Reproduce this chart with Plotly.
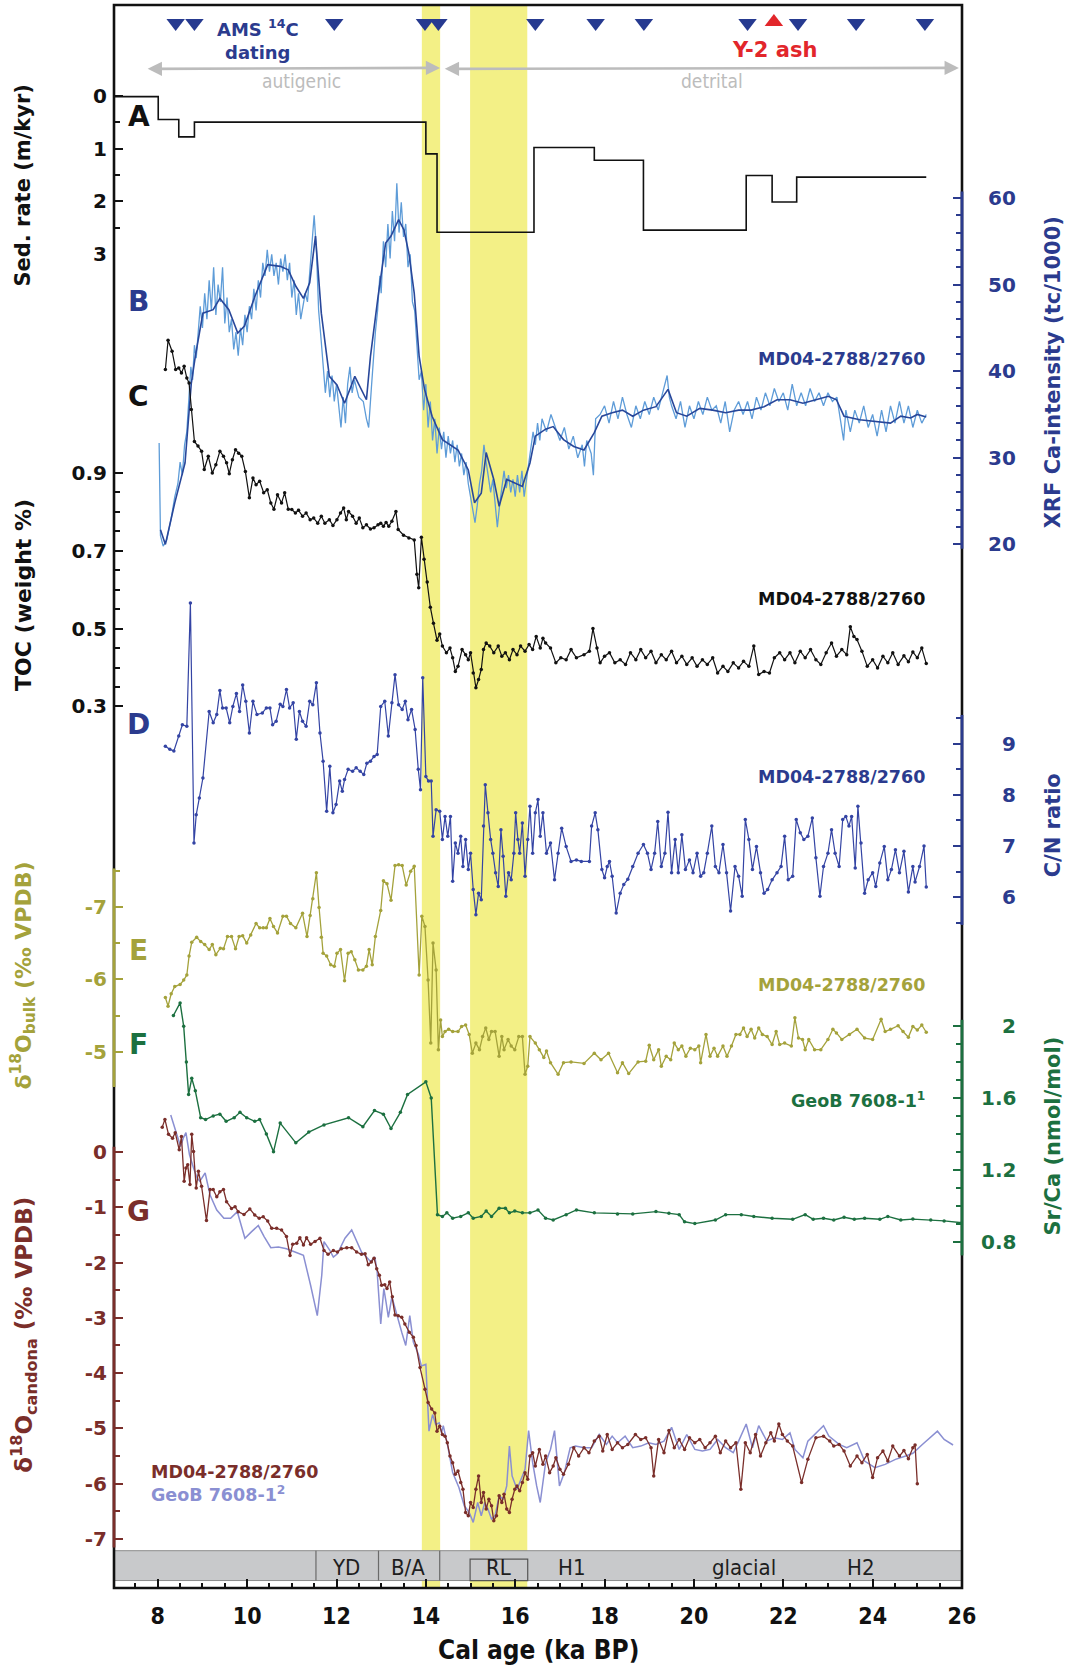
import plotly.graph_objects as go

# ======================= DATA =======================
# A: sedimentation rate (m/kyr), step function
sed_age = [7.02, 8.01, 8.38, 8.47, 8.82, 14.0, 14.25, 16.42, 17.77, 18.87, 21.17, 21.75, 22.30, 25.2]
sed_rate = [0.02, 0.45, 0.45, 0.78, 0.50, 1.10, 2.58, 0.98, 1.22, 2.54, 1.51, 2.01, 1.54, 1.54]

# B: XRF Ca intensity (tc/1000) - smoothed (dark) and raw (light)
xrf_smooth = [(8.06,21.7),(8.17,20.0),(8.38,24.8),(8.61,29.4),(8.75,38.6),(8.84,41.7),(9.01,46.7),(9.24,47.1),
    (9.39,48.4),(9.59,47.1),(9.79,44.4),(9.94,45.2),(10.17,48.6),(10.46,52.3),(10.74,52.1),(10.92,51.7),
    (11.09,49.8),(11.26,48.4),(11.40,50.2),(11.53,55.6),(11.66,46.7),(11.84,39.4),(12.01,38.4),(12.18,36.3),
    (12.41,39.4),(12.67,36.7),(12.76,41.7),(12.93,48.6),(13.10,54.8),(13.22,55.6),(13.39,57.5),(13.51,56.3),
    (13.62,53.6),(13.74,49.0),(13.85,41.7),(13.97,37.9),(14.14,34.8),(14.37,32.1),(14.72,30.9),(14.95,28.6),
    (15.09,24.8),(15.24,25.9),(15.35,30.6),(15.52,27.5),(15.64,24.4),(15.81,27.5),(15.99,27.1),(16.16,26.7),
    (16.33,29.4),(16.45,32.5),(16.68,33.3),(16.85,33.6),(17.08,32.1),(17.31,31.3),(17.54,30.9),(17.77,32.9),
    (17.94,34.8),(18.17,35.2),(18.40,35.5),(18.63,34.8),(18.87,35.5),(19.15,35.9),(19.42,37.9),(19.61,35.2),
    (19.84,34.8),(20.13,35.7),(20.42,35.5),(20.71,35.2),(21.0,35.5),(21.28,35.5),(21.57,35.9),(21.86,36.7),
    (22.15,36.7),(22.44,36.3),(22.73,36.7),(23.01,37.1),(23.19,36.7),(23.36,34.8),(23.71,34.4),(24.05,34.2),
    (24.40,34.0),(24.63,34.8),(24.85,34.6),(25.0,35.0),(25.2,34.7)]
xrf_raw = [(8.03,31.7),(8.06,21.0),(8.12,19.8),(8.2,20.5),(8.3,23.0),(8.38,25.5),(8.45,27.0),(8.5,29.5),(8.55,28.0),
    (8.6,31.5),(8.65,33.0),(8.7,38.0),(8.74,40.5),(8.78,39.0),(8.82,43.0),(8.86,41.5),(8.9,44.0),(8.95,47.5),
    (9.0,45.0),(9.05,49.0),(9.1,46.0),(9.15,50.5),(9.2,47.0),(9.25,52.0),(9.3,46.5),(9.35,50.0),(9.4,48.0),
    (9.45,52.0),(9.5,45.5),(9.55,48.5),(9.6,44.5),(9.65,46.0),(9.7,42.5),(9.75,44.5),(9.8,41.8),(9.85,45.0),
    (9.9,43.0),(9.95,46.5),(10.0,44.5),(10.05,47.5),(10.1,46.0),(10.15,49.5),(10.2,47.0),(10.25,50.5),(10.3,48.5),
    (10.35,52.5),(10.4,51.0),(10.45,54.0),(10.5,51.5),(10.55,53.5),(10.6,51.0),(10.65,52.5),(10.7,50.0),
    (10.75,53.0),(10.8,51.5),(10.85,53.5),(10.9,50.5),(10.95,52.5),(11.0,48.5),(11.05,50.5),(11.1,46.5),
    (11.15,49.0),(11.2,46.0),(11.25,47.5),(11.3,49.0),(11.35,48.0),(11.4,51.0),(11.45,54.5),(11.5,58.0),
    (11.55,54.0),(11.6,47.0),(11.65,44.0),(11.7,40.5),(11.75,37.5),(11.8,40.0),(11.85,37.0),(11.9,39.5),
    (11.95,36.5),(12.0,38.5),(12.05,36.0),(12.1,33.5),(12.15,37.0),(12.2,34.0),(12.25,38.5),(12.3,40.5),
    (12.35,37.5),(12.4,39.0),(12.5,37.0),(12.6,36.5),(12.67,34.5),(12.72,33.5),(12.78,38.0),(12.82,41.0),
    (12.87,44.5),(12.92,47.0),(12.97,51.0),(13.0,49.0),(13.05,55.0),(13.1,52.0),(13.15,57.0),(13.2,53.0),
    (13.25,58.5),(13.3,55.0),(13.35,61.7),(13.4,56.0),(13.45,59.5),(13.5,55.5),(13.55,57.0),(13.6,52.0),
    (13.65,53.5),(13.7,48.0),(13.75,47.0),(13.8,43.0),(13.85,39.0),(13.9,40.0),(13.95,35.5),(14.0,38.5),
    (14.05,33.5),(14.1,36.5),(14.15,32.0),(14.2,34.5),(14.25,30.5),(14.3,33.5),(14.35,31.0),(14.4,33.0),
    (14.45,30.0),(14.5,32.5),(14.55,30.5),(14.6,32.0),(14.65,29.5),(14.7,31.5),(14.75,29.0),(14.8,30.5),
    (14.85,28.0),(14.9,29.5),(14.95,27.0),(15.0,25.5),(15.05,24.0),(15.1,22.5),(15.15,24.5),(15.2,27.0),
    (15.25,28.5),(15.3,31.5),(15.35,29.5),(15.4,28.0),(15.45,26.0),(15.5,27.5),(15.55,25.0),(15.6,22.0),
    (15.65,24.5),(15.7,26.5),(15.75,28.5),(15.8,26.5),(15.85,28.0),(15.9,26.0),(15.95,27.5),(16.0,25.5),
    (16.05,28.0),(16.1,26.0),(16.15,28.5),(16.2,25.5),(16.25,27.5),(16.3,29.5),(16.35,31.5),(16.4,33.0),
    (16.45,31.5),(16.5,34.0),(16.55,32.0),(16.6,34.5),(16.7,33.0),(16.8,35.0),(16.9,33.5),(17.0,32.0),
    (17.1,33.5),(17.2,31.0),(17.3,32.5),(17.4,30.0),(17.5,31.5),(17.55,29.0),(17.6,32.0),(17.7,30.5),
    (17.75,28.0),(17.8,34.5),(17.9,35.0),(18.0,36.0),(18.1,34.0),(18.2,36.5),(18.3,34.5),(18.4,37.0),
    (18.5,35.0),(18.6,33.5),(18.7,36.0),(18.8,34.5),(18.9,36.5),(19.0,35.0),(19.1,37.0),(19.2,35.5),
    (19.3,37.5),(19.4,39.5),(19.45,37.0),(19.5,36.0),(19.6,34.5),(19.7,36.5),(19.8,33.5),(19.9,36.0),
    (20.0,34.5),(20.1,36.5),(20.2,35.0),(20.3,37.0),(20.4,35.5),(20.5,36.0),(20.6,34.0),(20.7,36.5),
    (20.8,33.0),(20.9,35.5),(21.0,36.5),(21.1,35.0),(21.2,36.5),(21.3,34.5),(21.4,37.0),(21.5,35.5),
    (21.6,37.5),(21.7,36.0),(21.8,38.0),(21.9,36.5),(22.0,37.5),(22.1,35.5),(22.2,38.5),(22.3,36.0),
    (22.4,37.5),(22.5,36.0),(22.6,38.0),(22.7,36.5),(22.8,37.5),(22.9,36.0),(23.0,37.5),(23.1,36.5),
    (23.2,37.0),(23.3,34.0),(23.35,32.0),(23.4,35.5),(23.5,33.0),(23.6,35.5),(23.7,34.0),(23.8,36.0),
    (23.9,33.5),(24.0,35.0),(24.1,32.5),(24.2,35.5),(24.3,33.0),(24.4,36.0),(24.5,34.0),(24.6,36.5),
    (24.7,34.0),(24.8,36.0),(24.9,33.5),(25.0,35.5),(25.1,34.0),(25.2,35.0)]

# C: TOC (weight %)
toc = [(8.17,1.166),(8.23,1.241),(8.32,1.213),(8.40,1.166),(8.47,1.170),(8.53,1.157),(8.59,1.174),(8.65,1.144),
    (8.70,1.131),(8.75,1.063),(8.82,0.981),(8.90,0.969),(8.98,0.956),(9.04,0.909),(9.13,0.943),(9.22,0.900),
    (9.30,0.921),(9.39,0.956),(9.47,0.943),(9.54,0.926),(9.60,0.898),(9.67,0.934),(9.74,0.960),(9.81,0.951),
    (9.88,0.943),(9.96,0.904),(10.05,0.836),(10.13,0.887),(10.20,0.870),(10.28,0.879),(10.37,0.849),(10.45,0.857),
    (10.53,0.823),(10.60,0.807),(10.68,0.844),(10.77,0.823),(10.84,0.849),(10.92,0.807),(11.00,0.806),(11.08,0.797),
    (11.15,0.804),(11.24,0.789),(11.32,0.797),(11.41,0.780),(11.49,0.784),(11.58,0.771),(11.66,0.789),(11.74,0.771),
    (11.84,0.780),(11.92,0.765),(12.01,0.780),(12.09,0.797),(12.16,0.810),(12.22,0.780),(12.27,0.801),(12.36,0.789),
    (12.44,0.771),(12.51,0.784),(12.59,0.759),(12.67,0.767),(12.76,0.756),(12.84,0.759),(12.93,0.767),(12.99,0.771),
    (13.05,0.763),(13.11,0.773),(13.17,0.763),(13.24,0.776),(13.33,0.801),(13.38,0.755),(13.50,0.740),(13.62,0.733),
    (13.74,0.728),(13.80,0.640),(13.84,0.605),(13.90,0.735),(13.96,0.678),(14.03,0.620),(14.10,0.555),(14.17,0.514),
    (14.25,0.470),(14.31,0.486),(14.37,0.455),(14.46,0.438),(14.54,0.450),(14.60,0.425),(14.66,0.390),(14.72,0.403),
    (14.81,0.446),(14.89,0.433),(14.95,0.420),(15.00,0.438),(15.06,0.386),(15.12,0.348),(15.18,0.369),(15.24,0.395),
    (15.29,0.446),(15.35,0.463),(15.43,0.455),(15.52,0.438),(15.62,0.455),(15.70,0.429),(15.78,0.438),(15.87,0.420),
    (15.95,0.446),(16.04,0.433),(16.12,0.455),(16.22,0.442),(16.31,0.459),(16.39,0.446),(16.47,0.480),(16.56,0.450),
    (16.62,0.475),(16.68,0.463),(16.79,0.450),(16.91,0.412),(17.02,0.425),(17.14,0.420),(17.25,0.446),(17.37,0.425),
    (17.54,0.433),(17.66,0.442),(17.74,0.500),(17.83,0.450),(17.90,0.412),(18.00,0.429),(18.11,0.438),(18.23,0.412),
    (18.35,0.420),(18.47,0.408),(18.58,0.438),(18.70,0.420),(18.81,0.446),(18.92,0.425),(19.04,0.442),(19.15,0.412),
    (19.27,0.433),(19.38,0.420),(19.50,0.442),(19.61,0.412),(19.73,0.429),(19.84,0.408),(19.96,0.425),(20.07,0.403),
    (20.19,0.420),(20.30,0.408),(20.42,0.425),(20.53,0.386),(20.65,0.403),(20.76,0.390),(20.88,0.412),(21.00,0.399),
    (21.11,0.416),(21.23,0.403),(21.34,0.455),(21.45,0.382),(21.57,0.390),(21.69,0.386),(21.80,0.425),(21.92,0.438),
    (22.03,0.420),(22.15,0.438),(22.26,0.412),(22.38,0.442),(22.49,0.425),(22.61,0.446),(22.73,0.420),(22.84,0.408),
    (22.96,0.438),(23.08,0.463),(23.19,0.429),(23.31,0.446),(23.42,0.433),(23.50,0.505),(23.58,0.480),(23.65,0.472),
    (23.76,0.442),(23.88,0.403),(24.00,0.420),(24.11,0.399),(24.23,0.429),(24.34,0.412),(24.45,0.438),(24.57,0.408),
    (24.70,0.430),(24.80,0.415),(24.90,0.440),(25.00,0.425),(25.10,0.450),(25.20,0.410)]

# D: C/N ratio
cn = [(8.17,8.95),(8.27,8.89),(8.36,8.86),(8.47,9.15),(8.55,9.37),(8.65,9.34),(8.73,11.75),(8.81,7.06),(8.86,7.61),
    (8.93,7.94),(9.01,8.33),(9.15,9.63),(9.24,9.41),(9.32,9.57),(9.39,10.04),(9.45,9.70),(9.53,9.70),(9.61,9.41),
    (9.68,9.73),(9.76,9.98),(9.83,9.63),(9.90,10.15),(9.97,9.83),(10.05,9.21),(10.13,9.83),(10.22,9.57),(10.34,9.60),
    (10.43,9.70),(10.51,9.70),(10.57,9.37),(10.65,9.44),(10.74,9.77),(10.80,9.73),(10.88,10.06),(10.95,9.70),
    (11.03,9.80),(11.10,9.09),(11.17,9.63),(11.24,9.44),(11.32,9.34),(11.40,9.83),(11.47,9.76),(11.55,10.19),
    (11.63,9.21),(11.70,8.66),(11.78,7.68),(11.85,8.56),(11.92,7.65),(11.99,7.81),(12.07,8.27),(12.13,8.07),
    (12.18,8.30),(12.26,8.50),(12.36,8.46),(12.44,8.53),(12.53,8.46),(12.61,8.40),(12.68,8.62),(12.76,8.66),
    (12.84,8.75),(12.91,8.79),(12.99,9.73),(13.08,9.83),(13.16,9.15),(13.24,9.80),(13.31,10.35),(13.39,9.76),
    (13.47,9.67),(13.54,9.83),(13.60,9.47),(13.68,9.67),(13.76,9.28),(13.83,8.50),(13.88,8.10),(13.93,10.29),
    (14.00,8.36),(14.06,8.27),(14.12,8.27),(14.16,7.19),(14.23,7.71),(14.31,7.68),(14.37,7.13),(14.43,7.58),
    (14.49,7.19),(14.55,7.58),(14.60,6.31),(14.66,7.06),(14.72,6.86),(14.78,7.19),(14.83,6.60),(14.89,7.13),
    (14.95,6.54),(15.00,6.86),(15.06,6.15),(15.12,5.66),(15.18,6.08),(15.24,5.95),(15.29,7.39),(15.33,8.20),
    (15.39,7.65),(15.45,7.13),(15.50,6.86),(15.56,6.48),(15.62,6.21),(15.68,7.32),(15.73,6.80),(15.79,6.02),
    (15.85,6.48),(15.91,6.34),(15.97,6.86),(16.01,7.65),(16.06,7.13),(16.10,6.86),(16.16,7.45),(16.22,6.41),
    (16.28,7.13),(16.33,7.78),(16.39,6.86),(16.45,7.65),(16.51,7.91),(16.56,7.19),(16.62,7.65),(16.70,6.86),
    (16.79,7.06),(16.88,6.34),(16.96,6.86),(17.04,7.35),(17.14,6.99),(17.25,6.70),(17.37,6.73),(17.48,6.70),
    (17.66,6.70),(17.71,7.39),(17.79,7.65),(17.85,7.32),(17.94,6.54),(18.00,6.38),(18.06,6.60),(18.11,6.70),
    (18.17,6.41),(18.26,5.69),(18.35,6.08),(18.43,6.25),(18.52,6.35),(18.63,6.60),(18.75,6.86),(18.87,7.03),
    (18.96,6.86),(19.04,6.54),(19.12,6.86),(19.19,7.48),(19.27,6.60),(19.35,6.86),(19.42,7.66),(19.50,6.48),
    (19.58,7.13),(19.65,6.48),(19.73,7.22),(19.81,6.54),(19.90,6.73),(19.98,6.48),(20.07,6.86),(20.15,6.41),
    (20.22,6.48),(20.30,6.86),(20.40,7.39),(20.48,6.60),(20.56,6.48),(20.65,7.03),(20.73,6.48),(20.82,5.73),
    (20.92,6.60),(21.00,6.41),(21.08,6.02),(21.15,7.52),(21.23,7.13),(21.31,6.54),(21.40,6.99),(21.49,6.48),
    (21.57,6.08),(21.65,6.15),(21.75,6.34),(21.86,6.48),(21.95,6.60),(22.03,7.19),(22.11,6.34),(22.21,6.41),
    (22.29,7.52),(22.38,7.26),(22.46,7.13),(22.55,7.19),(22.65,7.55),(22.73,6.77),(22.82,6.02),(22.90,6.60),
    (23.00,6.86),(23.08,7.32),(23.16,6.86),(23.25,6.60),(23.33,7.52),(23.40,7.58),(23.47,7.39),(23.53,7.58),
    (23.61,6.57),(23.67,7.78),(23.74,7.06),(23.82,6.08),(23.90,6.34),(24.00,6.48),(24.07,6.21),(24.16,6.67),
    (24.26,6.99),(24.34,6.34),(24.42,6.54),(24.51,6.93),(24.60,6.48),(24.70,6.90),(24.80,6.10),(24.90,6.60),
    (24.95,6.30),(25.05,6.60),(25.15,7.00),(25.20,6.20)]

# E: d18O bulk (permil VPDB)
d18o_bulk = [(8.17,-5.75),(8.23,-5.63),(8.30,-5.80),(8.38,-5.90),(8.50,-5.93),(8.58,-5.99),(8.65,-6.06),(8.70,-6.32),
    (8.76,-6.51),(8.87,-6.58),(8.96,-6.52),(9.05,-6.48),(9.15,-6.41),(9.22,-6.48),(9.30,-6.34),(9.40,-6.43),
    (9.47,-6.42),(9.56,-6.59),(9.65,-6.59),(9.74,-6.42),(9.82,-6.59),(9.90,-6.60),(9.99,-6.50),(10.08,-6.61),
    (10.20,-6.77),(10.28,-6.71),(10.36,-6.71),(10.43,-6.71),(10.51,-6.84),(10.59,-6.73),(10.68,-6.64),(10.80,-6.87),
    (10.88,-6.87),(10.97,-6.77),(11.09,-6.71),(11.24,-6.91),(11.34,-6.59),(11.41,-6.88),(11.47,-7.11),(11.55,-7.47),
    (11.61,-6.99),(11.66,-6.58),(11.70,-6.36),(11.78,-6.32),(11.87,-6.20),(11.95,-6.18),(12.01,-6.36),(12.09,-6.41),
    (12.18,-5.98),(12.26,-6.36),(12.33,-6.38),(12.41,-6.27),(12.49,-6.13),(12.59,-6.13),(12.67,-6.18),(12.73,-6.41),
    (12.80,-6.20),(12.87,-6.59),(12.99,-6.95),(13.05,-7.36),(13.13,-7.32),(13.22,-7.09),(13.31,-7.57),(13.39,-7.58),
    (13.47,-7.57),(13.56,-7.30),(13.66,-7.49),(13.74,-7.56),(13.85,-6.06),(13.91,-6.87),(13.98,-6.73),(14.05,-5.99),
    (14.11,-5.12),(14.16,-6.50),(14.23,-6.13),(14.28,-5.03),(14.33,-5.44),(14.37,-5.21),(14.43,-5.28),(14.51,-5.31),
    (14.60,-5.28),(14.72,-5.28),(14.80,-5.35),(14.89,-5.37),(14.97,-5.24),(15.04,-4.98),(15.12,-5.12),(15.20,-5.03),
    (15.27,-5.21),(15.34,-5.33),(15.41,-5.17),(15.47,-5.28),(15.55,-5.28),(15.64,-4.94),(15.70,-5.21),(15.75,-5.03),
    (15.84,-5.17),(15.91,-5.08),(15.99,-5.03),(16.08,-5.21),(16.16,-5.21),(16.22,-4.69),(16.28,-4.80),(16.33,-5.21),
    (16.45,-5.12),(16.54,-5.03),(16.64,-4.92),(16.70,-5.01),(16.79,-4.85),(16.96,-4.69),(17.08,-4.85),(17.25,-4.86),
    (17.54,-4.84),(17.77,-4.98),(17.92,-4.89),(18.09,-4.98),(18.29,-4.71),(18.40,-4.85),(18.54,-4.70),(18.75,-4.86),
    (18.92,-4.87),(19.00,-5.09),(19.10,-4.89),(19.21,-5.03),(19.27,-4.80),(19.38,-4.94),(19.48,-4.89),(19.56,-5.12),
    (19.65,-5.03),(19.73,-5.08),(19.82,-4.94),(19.92,-5.05),(20.02,-5.03),(20.11,-5.08),(20.15,-4.85),(20.27,-5.24),
    (20.36,-4.94),(20.45,-5.05),(20.53,-4.94),(20.65,-5.08),(20.74,-4.94),(20.84,-5.08),(20.94,-5.24),(21.03,-5.24),
    (21.11,-5.33),(21.19,-5.21),(21.28,-5.31),(21.36,-5.19),(21.45,-5.33),(21.53,-5.24),(21.64,-5.21),(21.75,-5.10),
    (21.84,-5.28),(21.92,-5.10),(22.03,-5.12),(22.18,-5.08),(22.26,-5.47),(22.34,-5.19),(22.43,-5.17),(22.49,-5.03),
    (22.57,-5.17),(22.70,-5.03),(22.84,-5.03),(23.00,-5.17),(23.11,-5.31),(23.19,-5.26),(23.31,-5.17),(23.48,-5.24),
    (23.65,-5.31),(23.82,-5.19),(24.00,-5.17),(24.19,-5.45),(24.28,-5.28),(24.40,-5.31),(24.57,-5.36),(24.68,-5.28),
    (24.80,-5.20),(24.90,-5.35),(25.00,-5.30),(25.10,-5.37),(25.20,-5.27)]

# F: Sr/Ca (nmol/mol), GeoB 7608-1
srca = [(8.35,2.06),(8.50,2.13),(8.58,2.00),(8.64,1.80),(8.69,1.62),(8.76,1.71),(8.84,1.64),(8.96,1.49),(9.07,1.48),
    (9.24,1.50),(9.39,1.51),(9.53,1.47),(9.71,1.49),(9.84,1.52),(9.99,1.49),(10.17,1.47),(10.28,1.48),(10.43,1.40),
    (10.59,1.30),(10.74,1.46),(11.09,1.35),(11.38,1.41),(11.72,1.45),(12.27,1.49),(12.59,1.44),(12.85,1.53),
    (13.05,1.51),(13.22,1.43),(13.43,1.52),(13.59,1.62),(14.00,1.69),(14.12,1.60),(14.26,0.95),(14.37,0.94),
    (14.47,0.96),(14.60,0.93),(14.78,0.94),(14.95,0.96),(15.06,0.93),(15.24,0.94),(15.35,0.97),(15.47,0.94),
    (15.64,0.986),(15.78,0.986),(15.87,0.96),(15.99,0.97),(16.16,0.96),(16.33,0.96),(16.51,0.976),(16.68,0.93),
    (16.85,0.92),(17.14,0.95),(17.37,0.976),(17.77,0.96),(18.29,0.954),(18.63,0.954),(19.15,0.967),(19.44,0.958),
    (19.67,0.95),(19.79,0.91),(20.02,0.90),(20.48,0.92),(20.71,0.95),(21.06,0.95),(21.34,0.94),(21.75,0.93),
    (22.21,0.924),(22.49,0.95),(22.67,0.924),(22.90,0.93),(23.13,0.92),(23.36,0.935),(23.59,0.924),(23.82,0.93),
    (24.16,0.924),(24.34,0.94),(24.63,0.92),(24.90,0.925),(25.30,0.92),(25.60,0.915),(26.00,0.905)]

# G: d18O Candona (permil VPDB) - MD04-2788/2760 and GeoB 7608-1
d18o_cand_md = [(8.10,0.45),(8.16,0.59),(8.24,0.32),(8.33,0.25),(8.39,0.35),(8.48,0.04),(8.53,0.28),(8.59,-0.53),
    (8.63,-0.29),(8.67,-0.23),(8.72,-0.59),(8.76,0.32),(8.80,0.01),(8.86,-0.65),(8.91,-0.35),(8.98,-0.62),
    (9.09,-1.24),(9.17,-0.68),(9.24,-0.68),(9.32,-0.81),(9.39,-0.72),(9.47,-0.68),(9.54,-0.90),(9.65,-1.02),
    (9.73,-0.99),(9.80,-1.08),(9.93,-1.13),(10.06,-1.03),(10.17,-1.14),(10.27,-1.20),(10.36,-1.17),(10.46,-1.25),
    (10.55,-1.38),(10.66,-1.38),(10.77,-1.41),(10.88,-1.53),(10.96,-1.87),(11.02,-1.67),(11.11,-1.65),(11.18,-1.55),
    (11.26,-1.68),(11.33,-1.55),(11.42,-1.67),(11.52,-1.62),(11.63,-1.56),(11.72,-1.78),(11.81,-1.85),(11.93,-1.78),
    (12.02,-1.81),(12.11,-1.75),(12.23,-1.73),(12.34,-1.73),(12.45,-1.81),(12.56,-1.85),(12.64,-1.84),(12.71,-2.04),
    (12.78,-1.99),(12.84,-1.92),(12.90,-2.11),(12.96,-2.23),(13.01,-2.41),(13.08,-2.40),(13.13,-2.47),(13.19,-2.35),
    (13.25,-2.62),(13.31,-2.95),(13.38,-2.96),(13.46,-2.99),(13.53,-3.11),(13.63,-3.26),(13.72,-3.35),(13.78,-3.50),
    (13.87,-3.90),(13.98,-4.29),(14.05,-4.53),(14.13,-4.65),(14.20,-4.72),(14.25,-5.05),(14.31,-4.96),(14.37,-5.11),
    (14.43,-5.14),(14.48,-5.26),(14.54,-5.50),(14.60,-5.62),(14.66,-5.83),(14.72,-5.77),(14.78,-5.98),(14.83,-6.10),
    (14.89,-6.52),(14.95,-6.58),(15.00,-6.34),(15.06,-6.43),(15.12,-6.10),(15.18,-5.86),(15.24,-6.34),(15.29,-6.16),
    (15.35,-6.46),(15.41,-6.28),(15.47,-6.40),(15.52,-6.67),(15.58,-6.58),(15.64,-6.22),(15.70,-6.34),(15.75,-6.19),
    (15.81,-6.46),(15.87,-6.52),(15.93,-6.28),(15.99,-6.10),(16.04,-6.04),(16.10,-6.13),(16.16,-5.98),(16.22,-5.80),
    (16.28,-5.92),(16.33,-5.50),(16.39,-5.44),(16.45,-5.68),(16.54,-5.38),(16.62,-5.65),(16.68,-5.50),(16.77,-5.80),
    (16.85,-5.68),(16.91,-5.53),(17.00,-5.74),(17.08,-5.83),(17.19,-5.65),(17.31,-5.35),(17.42,-5.50),(17.54,-5.35),
    (17.65,-5.44),(17.77,-5.23),(17.88,-5.14),(17.96,-5.41),(18.06,-5.11),(18.17,-5.38),(18.29,-5.26),(18.40,-5.35),
    (18.52,-5.29),(18.69,-5.11),(18.81,-5.20),(18.92,-5.17),(19.04,-5.35),(19.10,-5.86),(19.21,-5.20),(19.33,-5.44),
    (19.44,-5.04),(19.56,-5.35),(19.67,-5.20),(19.79,-5.38),(19.90,-5.17),(20.02,-5.26),(20.13,-5.20),(20.25,-5.35),
    (20.36,-5.26),(20.48,-5.14),(20.59,-5.44),(20.71,-5.23),(20.82,-5.35),(20.94,-5.26),(21.05,-6.10),(21.15,-5.26),
    (21.26,-5.44),(21.38,-5.11),(21.49,-5.50),(21.61,-5.26),(21.72,-5.08),(21.80,-5.23),(21.90,-4.92),(21.98,-5.11),
    (22.09,-5.23),(22.21,-5.32),(22.41,-5.98),(22.55,-5.56),(22.73,-5.17),(22.90,-5.14),(23.04,-5.23),(23.13,-5.32),
    (23.25,-5.29),(23.36,-5.41),(23.50,-5.68),(23.65,-5.50),(23.76,-5.62),(23.88,-5.47),(24.00,-5.89),(24.11,-5.53),
    (24.23,-5.41),(24.34,-5.59),(24.45,-5.32),(24.60,-5.50),(24.70,-5.40),(24.80,-5.55),(24.90,-5.35),(24.95,-5.30),
    (25.00,-6.00)]
d18o_cand_geob = [(8.29,0.67),(8.36,0.47),(8.44,0.28),(8.51,0.10),(8.57,0.25),(8.63,0.35),(8.71,-0.05),(8.80,-0.29),
    (8.88,-0.47),(8.94,-0.53),(9.06,-0.38),(9.17,-0.78),(9.32,-1.05),(9.48,-1.20),(9.63,-1.20),(9.78,-1.08),
    (9.95,-1.56),(10.10,-1.44),(10.25,-1.33),(10.38,-1.53),(10.53,-1.73),(10.70,-1.72),(10.88,-1.75),(11.07,-1.81),
    (11.26,-1.87),(11.42,-2.41),(11.57,-2.96),(11.67,-2.23),(11.72,-1.62),(11.85,-1.78),(11.93,-1.90),(12.02,-1.84),
    (12.19,-1.56),(12.34,-1.41),(12.45,-1.62),(12.56,-1.81),(12.67,-1.90),(12.76,-1.98),(12.86,-1.90),(12.91,-2.17),
    (12.99,-3.11),(13.06,-2.47),(13.11,-2.72),(13.16,-2.99),(13.24,-2.62),(13.34,-2.93),(13.46,-3.26),(13.55,-3.50),
    (13.64,-2.96),(13.72,-3.44),(13.83,-3.65),(13.90,-3.87),(14.00,-3.84),(14.07,-5.05),(14.15,-4.75),(14.22,-4.93),
    (14.30,-4.90),(14.35,-5.08),(14.39,-4.95),(14.49,-5.32),(14.60,-5.80),(14.74,-6.07),(14.86,-6.40),(14.97,-6.52),
    (15.06,-6.70),(15.16,-6.34),(15.24,-6.58),(15.32,-6.34),(15.39,-6.46),(15.47,-6.64),(15.55,-6.58),(15.64,-6.22),
    (15.73,-6.28),(15.81,-6.04),(15.87,-5.32),(15.93,-5.86),(16.04,-6.10),(16.16,-5.86),(16.22,-5.74),(16.30,-5.04),
    (16.39,-5.62),(16.48,-6.04),(16.56,-6.34),(16.68,-5.62),(16.79,-5.38),(16.88,-5.04),(16.99,-6.04),(17.10,-5.80),
    (17.23,-5.35),(17.35,-5.32),(17.54,-5.35),(17.71,-5.35),(17.88,-5.11),(18.04,-5.29),(18.17,-5.14),(18.29,-5.26),
    (18.46,-5.14),(18.63,-5.35),(18.81,-5.32),(18.99,-5.26),(19.15,-5.29),(19.33,-5.23),(19.50,-4.98),(19.67,-5.38),
    (19.84,-5.11),(20.02,-5.38),(20.19,-5.41),(20.36,-5.38),(20.53,-5.20),(20.71,-5.35),(20.88,-5.44),(21.00,-5.23),
    (21.17,-4.92),(21.31,-5.35),(21.45,-4.95),(21.63,-5.23),(21.80,-5.17),(21.98,-5.20),(22.15,-5.08),(22.26,-5.38),
    (22.44,-5.53),(22.55,-5.23),(22.73,-5.08),(22.90,-4.95),(23.02,-5.14),(23.25,-5.29),(23.42,-5.35),(23.65,-5.26),
    (23.82,-5.59),(24.05,-5.71),(24.28,-5.65),(24.51,-5.56),(24.74,-5.50),(24.90,-5.45),(25.10,-5.30),(25.30,-5.15),
    (25.45,-5.05),(25.60,-5.20),(25.80,-5.30)]

# dating markers (ka)
ams_ages = [8.40, 8.82, 11.95, 13.98, 14.28, 16.45, 17.80, 18.88, 21.20, 22.33, 23.63, 25.17]
ash_age = [21.79]

# shaded intervals (ka) and stratigraphic band labels
yellow_bands = [(13.91, 14.32), (14.99, 16.27)]
band_dividers = [11.54, 12.94, 14.31]
rl_box = (14.99, 16.28)
band_labels = [("YD", 12.21), ("B/A", 13.60), ("RL", 15.62), ("H1", 17.27), ("glacial", 21.11), ("H2", 23.73)]
x_ticks = [8, 10, 12, 14, 16, 18, 20, 22, 24, 26]

# ======================= LAYOUT GEOMETRY =======================
W, H = 1069, 1667
S = 1069 / 1003.0            # measured-picture scale to output pixels
PX_L, PX_R, PY_T, PY_B = 107, 903, 5, 1490
X0, X1 = 7.02, 26.0

def fx(px):
    return (px - PX_L) / (PX_R - PX_L)

def fy(py):
    return (PY_B - py) / (PY_B - PY_T)

AX = {
    "sed": ((0, 90), (3, 239)),
    "xrf": ((60, 186), (20, 511)),
    "toc": ((0.9, 444), (0.3, 663)),
    "cn": ((9, 698), (6, 842)),
    "bulk": ((-7, 851), (-5, 987)),
    "srca": ((2, 963), (0.8, 1165)),
    "cand": ((0, 1081), (-7, 1444)),
}

def val(key, py):
    (v1, p1), (v2, p2) = AX[key]
    return v1 + (py - p1) * (v2 - v1) / (p2 - p1)

def pix(key, v):
    (v1, p1), (v2, p2) = AX[key]
    return p1 + (v - v1) * (p2 - p1) / (v2 - v1)

def full_range(key):
    return [val(key, PY_B), val(key, PY_T)]

BLACK = "#111111"
BLUE = "#2b3b8e"
XRF_LIGHT = "#5e9cd8"
XRF_DARK = "#28479a"
CN_COL = "#3444a4"
OLIVE = "#a4a23b"
GREEN = "#1c7040"
BROWN = "#7a2e2a"
LAV = "#8a8fd2"
RED = "#e2262b"
GREYTXT = "#bcbcbc"
YELLOW = "#f3f086"
BANDGREY = "#c8c9cb"
FONT = "DejaVu Sans"
FONTC = "DejaVu Sans Condensed"

fig = go.Figure()

def unzip(pairs):
    return [p[0] for p in pairs], [p[1] for p in pairs]

data_axes = {"sed": "y", "xrf": "y2", "toc": "y3", "cn": "y4", "bulk": "y5", "srca": "y6", "cand": "y7"}

fig.add_trace(go.Scatter(x=sed_age, y=sed_rate, mode="lines", line=dict(color=BLACK, width=1.6, shape="hv"),
                         yaxis="y", hoverinfo="skip"))
a, v = unzip(xrf_raw)
fig.add_trace(go.Scatter(x=a, y=v, mode="lines", line=dict(color=XRF_LIGHT, width=1.3), yaxis="y2"))
a, v = unzip(xrf_smooth)
fig.add_trace(go.Scatter(x=a, y=v, mode="lines", line=dict(color=XRF_DARK, width=1.6), yaxis="y2"))
a, v = unzip(toc)
fig.add_trace(go.Scatter(x=a, y=v, mode="lines+markers", line=dict(color=BLACK, width=1.2),
                         marker=dict(size=3.5, color=BLACK), yaxis="y3"))
a, v = unzip(cn)
fig.add_trace(go.Scatter(x=a, y=v, mode="lines+markers", line=dict(color=CN_COL, width=1.2),
                         marker=dict(size=3.5, color=CN_COL), yaxis="y4"))
a, v = unzip(d18o_bulk)
fig.add_trace(go.Scatter(x=a, y=v, mode="lines+markers", line=dict(color=OLIVE, width=1.3),
                         marker=dict(size=3.5, color=OLIVE), yaxis="y5"))
a, v = unzip(srca)
fig.add_trace(go.Scatter(x=a, y=v, mode="lines+markers", line=dict(color=GREEN, width=1.4),
                         marker=dict(size=3.5, color=GREEN), yaxis="y6"))
a, v = unzip(d18o_cand_geob)
fig.add_trace(go.Scatter(x=a, y=v, mode="lines", line=dict(color=LAV, width=1.5), yaxis="y7"))
a, v = unzip(d18o_cand_md)
fig.add_trace(go.Scatter(x=a, y=v, mode="lines+markers", line=dict(color=BROWN, width=1.3),
                         marker=dict(size=3.5, color=BROWN), yaxis="y7"))

fig.add_trace(go.Scatter(x=ams_ages, y=[fy(22)] * len(ams_ages), mode="markers", yaxis="y8",
                         marker=dict(symbol="triangle-down", size=16, color="#263a90")))
fig.add_trace(go.Scatter(x=ash_age, y=[fy(21)] * len(ash_age), mode="markers", yaxis="y8",
                         marker=dict(symbol="triangle-up", size=16, color=RED)))

layout = dict(
    template="none",
    width=W, height=H,
    margin=dict(l=round(PX_L * S), r=round(W - PX_R * S), t=round(PY_T * S), b=round(H - PY_B * S),
                autoexpand=False),
    paper_bgcolor="white", plot_bgcolor="rgba(0,0,0,0)",
    showlegend=False,
    font=dict(family=FONT, color=BLACK),
    xaxis=dict(range=[X0, X1], domain=[0, 1], showgrid=False, zeroline=False, showline=False, automargin=False,
               ticks="inside", ticklen=9, tickwidth=2, tickcolor=BLACK,
               tickvals=x_ticks, ticktext=[str(t) for t in x_ticks],
               tickfont=dict(family=FONTC, size=23, color=BLACK, weight="bold"),
               ticklabelstandoff=12,
               minor=dict(dtick=0.5, tick0=0, ticks="inside", ticklen=5, tickwidth=1.5, tickcolor=BLACK)),
)
for key, ax in data_axes.items():
    name = "yaxis" if ax == "y" else "yaxis" + ax[1:]
    d = dict(range=full_range(key), domain=[0, 1], visible=False, showgrid=False, zeroline=False,
             automargin=False)
    if ax != "y":
        d["overlaying"] = "y"
    layout[name] = d
layout["yaxis8"] = dict(range=[0, 1], overlaying="y", visible=False, automargin=False)

disp = [
    ("sed", 10, "left", BLACK, 239, 88, [0, 1, 2, 3], ["0", "1", "2", "3"], [0.5, 1.5, 2.5]),
    ("xrf", 11, "right", BLUE, 515, 180, [20, 30, 40, 50, 60], ["20", "30", "40", "50", "60"],
     [v for v in range(20, 61, 2) if v % 10]),
    ("toc", 12, "left", BLACK, 668, 430, [0.3, 0.5, 0.7, 0.9], ["0.3", "0.5", "0.7", "0.9"],
     [0.35, 0.4, 0.45, 0.55, 0.6, 0.65, 0.75, 0.8, 0.85]),
    ("cn", 13, "right", BLUE, 868, 671, [6, 7, 8, 9], ["6", "7", "8", "9"], [5.5, 6.5, 7.5, 8.5, 9.5]),
    ("bulk", 14, "left", OLIVE, 1020, 815, [-7, -6, -5], ["-7", "-6", "-5"], [-7.5, -6.5, -5.5, -4.5]),
    ("srca", 15, "right", GREEN, 1178, 957, [0.8, 1.2, 1.6, 2.0], ["0.8", "1.2", "1.6", "2"],
     [0.9, 1.0, 1.1, 1.3, 1.4, 1.5, 1.7, 1.8, 1.9]),
    ("cand", 16, "left", BROWN, 1452, 1076, [0, -1, -2, -3, -4, -5, -6, -7],
     ["0", "-1", "-2", "-3", "-4", "-5", "-6", "-7"], [-0.5, -1.5, -2.5, -3.5, -4.5, -5.5, -6.5]),
]
shapes = []
for (x0, x1) in yellow_bands:
    shapes.append(dict(type="rect", xref="x", yref="paper", x0=x0, x1=x1, y0=0, y1=1,
                       fillcolor=YELLOW, line=dict(width=0), layer="below"))
shapes.append(dict(type="rect", xref="paper", yref="paper", x0=0, x1=1, y0=fy(1483), y1=fy(1455),
                   fillcolor=BANDGREY, line=dict(color="#8c8c8c", width=1), layer="below"))
for d_ in band_dividers:
    shapes.append(dict(type="line", xref="x", yref="paper", x0=d_, x1=d_, y0=fy(1483), y1=fy(1455),
                       line=dict(color="#6a6a6a", width=1.2), layer="below"))
shapes.append(dict(type="rect", xref="x", yref="paper", x0=rl_box[0], x1=rl_box[1], y0=fy(1483), y1=fy(1463),
                   line=dict(color="#555555", width=1.2), layer="below"))
shapes.append(dict(type="rect", xref="paper", yref="paper", x0=0, x1=1, y0=0, y1=1,
                   line=dict(color=BLACK, width=2.6), layer="below"))

ann = []
def txt(text, px, py, size, color, xanchor="center", family=FONT, weight="bold", angle=0):
    ann.append(dict(text=text, x=fx(px), y=fy(py), xref="paper", yref="paper", showarrow=False,
                    xanchor=xanchor, yanchor="middle", textangle=angle,
                    font=dict(family=family, size=size, color=color, weight=weight)))

for key, num, side, col, pb, pt, tv, tt, mv in disp:
    fig.add_trace(go.Scatter(x=[], y=[], yaxis="y%d" % num, hoverinfo="skip"))
    layout["yaxis%d" % num] = dict(
        anchor="x", side=side, domain=[fy(pb), fy(pt)], range=[val(key, pb), val(key, pt)],
        showgrid=False, zeroline=False, showline=False, automargin=False,
        ticks="inside", ticklen=9, tickwidth=2, tickcolor=col,
        tickvals=tv, ticktext=tt, showticklabels=(side == "left"),
        tickfont=dict(family=FONT, size=20, color=col, weight="bold"),
        ticklabelstandoff=6,
        minor=dict(tickmode="array", tickvals=mv, ticks="inside", ticklen=6, tickwidth=1.6, tickcolor=col),
    )
    if side == "right":
        for tvv, ttt in zip(tv, tt):
            txt(ttt, 956, pix(key, tvv), 20, col, xanchor="right")
    if col != BLACK:
        xs = 0 if side == "left" else 1
        shapes.append(dict(type="line", xref="paper", yref="paper", x0=xs, x1=xs, y0=fy(pb), y1=fy(pt),
                           line=dict(color=col, width=2.8), layer="below"))

layout["shapes"] = shapes

for letter, py, col in [("A", 110, BLACK), ("B", 283, BLUE), ("C", 372, BLACK), ("D", 680, BLUE),
                        ("E", 892, OLIVE), ("F", 980, GREEN), ("G", 1137, BROWN)]:
    txt(letter, 130, py, 28, col)

txt("Sed. rate (m/kyr)", 22, 174, 21, BLACK, angle=-90)
txt("TOC (weight %)", 22, 558, 22, BLACK, angle=-90)
txt("δ<sup>18</sup>O<sub>bulk</sub> (‰ VPDB)", 22, 915, 22, OLIVE, angle=-90)
txt("δ<sup>18</sup>O<sub>candona</sub> (‰ VPDB)", 22, 1252, 23, BROWN, angle=-90)
txt("XRF Ca-intensity (tc/1000)", 988, 350, 21, BLUE, angle=-90)
txt("C/N ratio", 988, 775, 21, BLUE, angle=-90)
txt("Sr/Ca (nmol/mol)", 988, 1066, 21, GREEN, angle=-90)

txt("MD04-2788/2760", 870, 337, 17.5, BLUE, xanchor="right")
txt("MD04-2788/2760", 870, 562, 17.5, BLACK, xanchor="right")
txt("MD04-2788/2760", 870, 729, 17.5, BLUE, xanchor="right")
txt("MD04-2788/2760", 870, 924, 17.5, OLIVE, xanchor="right")
txt("GeoB 7608-1<sup>1</sup>", 870, 1032, 17.5, GREEN, xanchor="right")
txt("MD04-2788/2760", 140, 1381, 17.5, BROWN, xanchor="left")
txt("GeoB 7608-1<sup>2</sup>", 140, 1402, 17.5, LAV, xanchor="left")

txt("AMS <sup>14</sup>C", 242, 27, 18, BLUE)
txt("dating", 242, 50, 18, BLUE)
txt("Y-2 ash", 727, 47, 21, RED)
txt("autigenic", 283, 76, 19, GREYTXT, family=FONTC, weight="normal")
txt("detrital", 668, 76, 19, GREYTXT, family=FONTC, weight="normal")
for (xa, xb) in [(7.74, 14.32), (14.39, 25.93)]:
    ann.append(dict(text="", x=xb, y=fy(64), xref="x", yref="paper", ax=xa, ay=fy(64), axref="x", ayref="y8",
                    showarrow=True, arrowhead=2, arrowside="end+start", arrowsize=1.1, arrowwidth=2.6,
                    arrowcolor=GREYTXT, standoff=0, startstandoff=0))

for lab, ka in band_labels:
    ann.append(dict(text=lab, x=ka, y=fy(1471), xref="x", yref="paper", showarrow=False,
                    xanchor="center", yanchor="middle",
                    font=dict(family=FONTC, size=22, color="#1e1e1e")))

txt("Cal age (ka BP)", 505, 1548, 26, BLACK, family=FONTC)

layout["annotations"] = ann
fig.update_layout(**layout)
fig.write_html("out.html", config={"displayModeBar": False},
               post_script="document.body.style.margin='0px';document.body.style.padding='0px';"
                           "document.body.style.overflow='hidden';")
